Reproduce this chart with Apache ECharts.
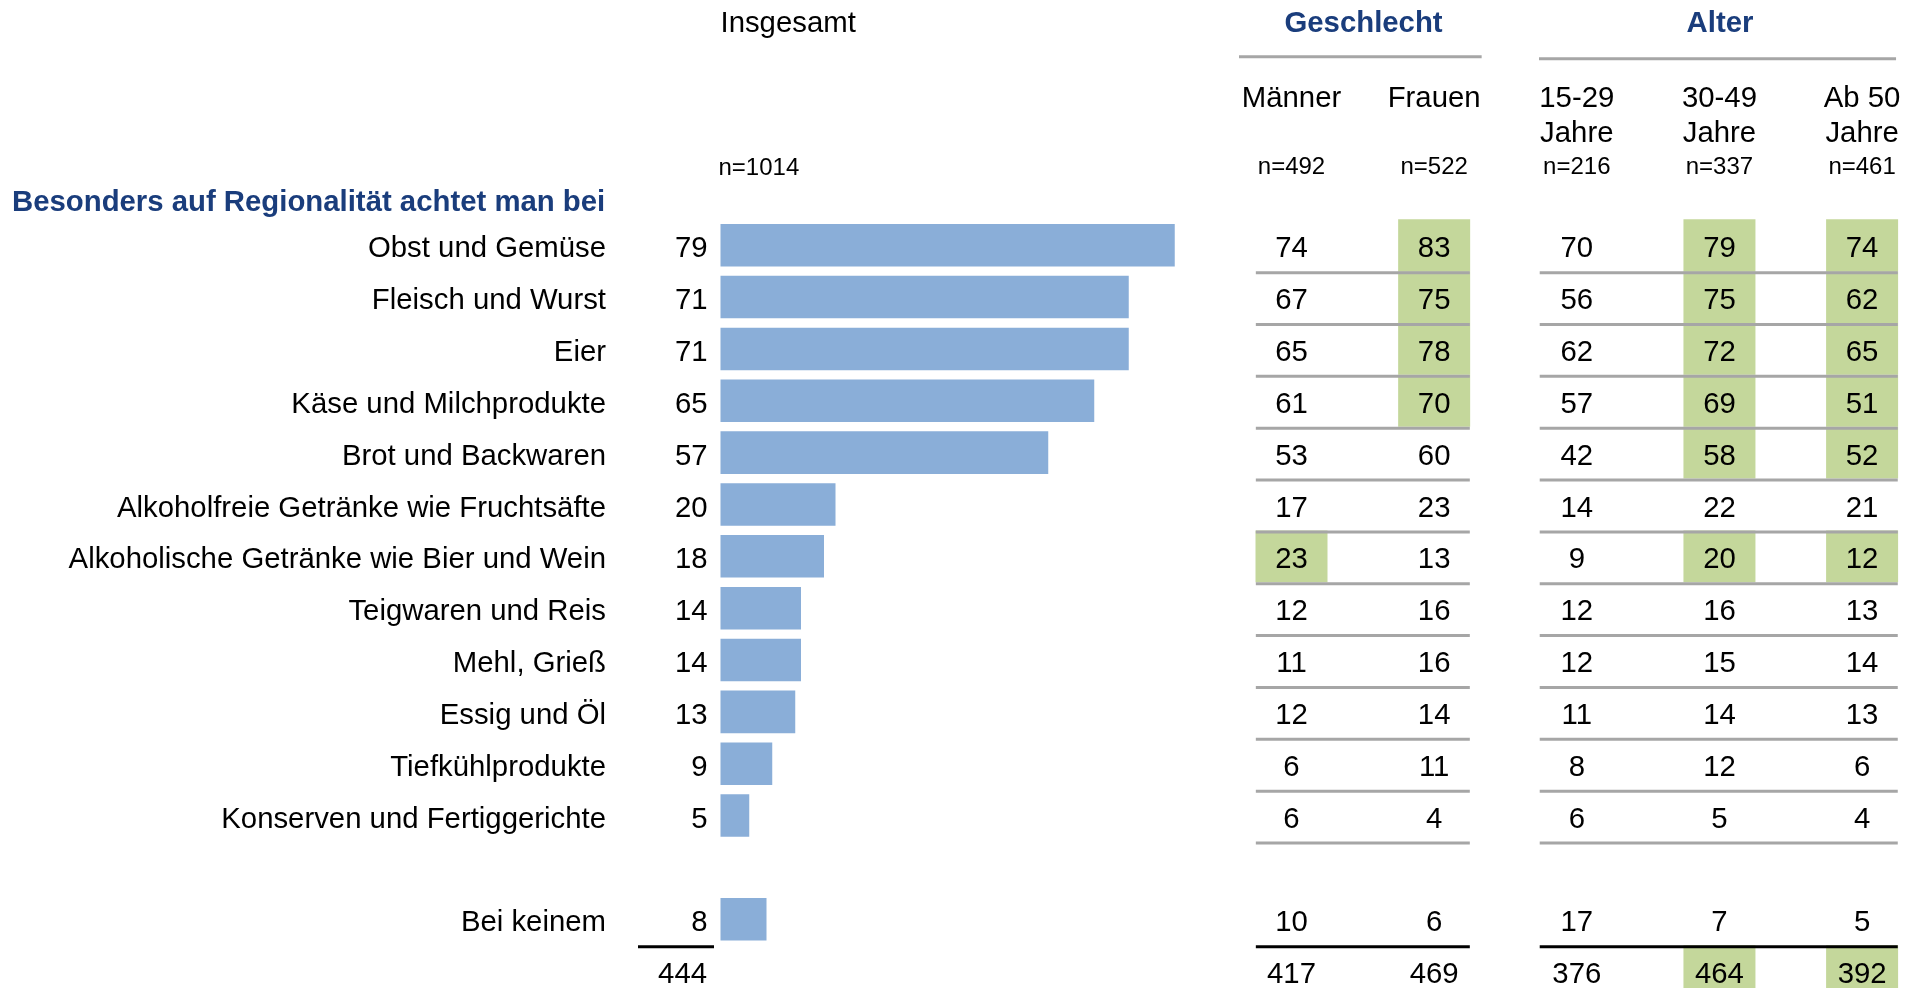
<!DOCTYPE html>
<html>
<head>
<meta charset="utf-8">
<title>Regionalität</title>
<script src="https://cdn.jsdelivr.net/npm/echarts@6/dist/echarts.min.js"></script>
<style>
html,body{margin:0;padding:0;background:#fff}
#main{width:1912px;height:988px}
</style>
</head>
<body>
<div id="main"></div>
<script>
// Zeilen: 12 Produkte, eine Leerzeile, "Bei keinem", Summenzeile
var categories = ['Obst und Gemüse', 'Fleisch und Wurst', 'Eier', 'Käse und Milchprodukte', 'Brot und Backwaren',
  'Alkoholfreie Getränke wie Fruchtsäfte', 'Alkoholische Getränke wie Bier und Wein', 'Teigwaren und Reis',
  'Mehl, Grieß', 'Essig und Öl', 'Tiefkühlprodukte', 'Konserven und Fertiggerichte', ' ', 'Bei keinem', '  '];

var insgesamt = [79, 71, 71, 65, 57, 20, 18, 14, 14, 13, 9, 5, '-', 8, '-'];
var summeInsgesamt = 444;

var maenner = [74, 67, 65, 61, 53, 17, 23, 12, 11, 12, 6, 6, null, 10];
var frauen  = [83, 75, 78, 70, 60, 23, 13, 16, 16, 14, 11, 4, null, 6];
var j1529   = [70, 56, 62, 57, 42, 14, 9, 12, 12, 11, 8, 6, null, 17];
var j3049   = [79, 75, 72, 69, 58, 22, 20, 16, 15, 14, 12, 5, null, 7];
var ab50    = [74, 62, 65, 51, 52, 21, 12, 13, 14, 13, 6, 4, null, 5];
var summen  = [417, 469, 376, 464, 392];

// grün hinterlegte Zellen (Zeilenindex, 14 = Summe)
var gruenMaenner = [6];
var gruenFrauen  = [0, 1, 2, 3];
var gruen1529    = [];
var gruen3049    = [0, 1, 2, 3, 4, 6, 14];
var gruenAb50    = [0, 1, 2, 3, 4, 6, 14];

var spaltenKopf = [['Männer'], ['Frauen'], ['15-29', 'Jahre'], ['30-49', 'Jahre'], ['Ab 50', 'Jahre']];
var spaltenN    = ['n=492', 'n=522', 'n=216', 'n=337', 'n=461'];
var nGesamt     = 'n=1014';

var FONT = "'Liberation Sans', Arial, sans-serif";
var BLUE = '#1A3D7C';
var GREEN = '#C4D79B';
var GRAY = '#A6A6A6';
var BARC = '#8AAED8';
var FS = 29.33;
var TY = 4;    // Textversatz Zeilen
var HY = 2.3;  // Textversatz Köpfe

var spalten = [maenner, frauen, j1529, j3049, ab50];
var gruen = [gruenMaenner, gruenFrauen, gruen1529, gruen3049, gruenAb50];

var cellData = [];
spalten.forEach(function (col, ci) {
  col.forEach(function (v, ri) {
    if (v == null) return;
    cellData.push([ci, ri, v, gruen[ci].indexOf(ri) >= 0 ? 1 : 0]);
  });
  cellData.push([ci, 14, summen[ci], gruen[ci].indexOf(14) >= 0 ? 1 : 0]);
});

// Trennlinien: [von, bis, Zeile, schwarz?]
var lineData = [];
for (var r = 0; r < 12; r++) {
  lineData.push([-0.25, 1.25, r, 0]);
  lineData.push([1.74, 4.25, r, 0]);
}
lineData.push([-0.25, 1.25, 13, 1]);
lineData.push([1.74, 4.25, 13, 1]);

var gruppen = [
  { name: 'Geschlecht', mitte: 0.505, von: -0.368, bis: 1.333, dy: -188.4 },
  { name: 'Alter', mitte: 3.004, von: 1.735, bis: 4.238, dy: -186.4 }
];

function txt(t, x, y, align, size, extra) {
  var s = { text: t, x: x, y: y, align: align, verticalAlign: 'middle', fontSize: size, fontFamily: FONT, fill: '#000' };
  for (var k in extra) s[k] = extra[k];
  return { type: 'text', style: s };
}

var chart = echarts.init(document.getElementById('main'));

var gridTop = 219.3, rowH = 51.85;

chart.setOption({
  animation: false,
  graphic: [{
    type: 'text', x: 12, y: 201 + HY,
    style: { text: 'Besonders auf Regionalität achtet man bei', font: 'bold ' + FS + 'px ' + FONT, fill: BLUE, verticalAlign: 'middle' }
  }],
  grid: [
    { left: 720.5, width: 575, top: gridTop, height: rowH * 15, outerBoundsMode: 'none', containLabel: false },
    { left: 1291.5, width: 570.6, top: gridTop, height: rowH * 15, outerBoundsMode: 'none', containLabel: false }
  ],
  xAxis: [
    { type: 'value', gridIndex: 0, min: 0, max: 100, show: false },
    { type: 'value', gridIndex: 1, min: 0, max: 4, show: false }
  ],
  yAxis: [
    { type: 'category', gridIndex: 0, data: categories, inverse: true, show: false },
    { type: 'category', gridIndex: 1, data: categories, inverse: true, show: false }
  ],
  series: [
    {
      type: 'bar', xAxisIndex: 0, yAxisIndex: 0, data: insgesamt,
      barCategoryGap: '18%',
      itemStyle: { color: BARC },
      label: { show: true, position: 'left', distance: 13, offset: [0, TY], fontSize: FS, fontFamily: FONT, color: '#000' }
    },
    {
      // Kategorienamen links
      type: 'custom', xAxisIndex: 0, yAxisIndex: 0,
      data: categories.map(function (c, i) { return [0, i]; }),
      encode: { x: 0, y: 1 },
      renderItem: function (params, api) {
        var p = api.coord([0, api.value(1)]);
        return txt(categories[api.value(1)], p[0] - 114.5, p[1] + TY, 'right', FS);
      }
    },
    {
      // Kopf "Insgesamt" und Summe 444
      type: 'custom', xAxisIndex: 0, yAxisIndex: 0, data: [[0, 14, summeInsgesamt]],
      encode: { x: 0, y: 1 },
      renderItem: function (params, api) {
        var p = api.coord([0, 14]);
        var p0 = api.coord([0, 0]);
        var h = api.size([0, 1])[1];
        return {
          type: 'group', children: [
            { type: 'line', shape: { x1: p[0] - 82.5, y1: p[1] - h / 2 + 1.5, x2: p[0] - 6.5, y2: p[1] - h / 2 + 1.5 }, style: { stroke: '#000', lineWidth: 3 } },
            txt(String(api.value(2)), p[0] - 13.5, p[1] + TY, 'right', FS),
            txt('Insgesamt', p0[0], p0[1] - 224 + HY, 'left', FS),
            txt(nGesamt, p0[0] - 2, p0[1] - 79 + HY, 'left', 24)
          ]
        };
      }
    },
    {
      // Tabellenzellen
      type: 'custom', xAxisIndex: 1, yAxisIndex: 1, data: cellData,
      encode: { x: 0, y: 1 },
      renderItem: function (params, api) {
        var p = api.coord([api.value(0), api.value(1)]);
        var h = api.size([1, 1])[1];
        var w = 72;
        var ch = [];
        if (api.value(3)) {
          ch.push({ type: 'rect', shape: { x: p[0] - w / 2, y: p[1] - h / 2, width: w, height: h + (api.value(1) === 14 ? 20 : 0) }, style: { fill: GREEN } });
        }
        ch.push(txt(String(api.value(2)), p[0], p[1] + TY, 'center', FS));
        return { type: 'group', children: ch };
      },
      z: 2
    },
    {
      type: 'custom', xAxisIndex: 1, yAxisIndex: 1, data: lineData,
      encode: { x: [0, 1], y: 2 },
      renderItem: function (params, api) {
        var a = api.coord([api.value(0), api.value(2)]);
        var b = api.coord([api.value(1), api.value(2)]);
        var y = a[1] + api.size([0, 1])[1] / 2 + 1.5;
        return { type: 'line', shape: { x1: a[0], y1: y, x2: b[0], y2: y }, style: { stroke: api.value(3) ? '#000' : GRAY, lineWidth: 3 } };
      },
      z: 3
    },
    {
      // Spaltenköpfe
      type: 'custom', xAxisIndex: 1, yAxisIndex: 1, data: spaltenKopf.map(function (k, i) { return [i, 0]; }),
      encode: { x: 0, y: 1 },
      renderItem: function (params, api) {
        var i = api.value(0);
        var p = api.coord([i, 0]);
        var ch = [];
        spaltenKopf[i].forEach(function (t, j) {
          ch.push(txt(t, p[0], p[1] - 149 + j * 35.8 + HY, 'center', FS));
        });
        ch.push(txt(spaltenN[i], p[0], p[1] - 80.4 + HY, 'center', 24));
        return { type: 'group', children: ch };
      }
    },
    {
      // Gruppenköpfe mit Linie
      type: 'custom', xAxisIndex: 1, yAxisIndex: 1, data: gruppen.map(function (g, i) { return [g.mitte, 0, i]; }),
      encode: { x: 0, y: 1 },
      renderItem: function (params, api) {
        var g = gruppen[api.value(2)];
        var m = api.coord([g.mitte, 0]);
        var a = api.coord([g.von, 0]);
        var b = api.coord([g.bis, 0]);
        return {
          type: 'group', children: [
            txt(g.name, m[0], m[1] - 224 + HY, 'center', FS, { fontWeight: 'bold', fill: BLUE }),
            { type: 'line', shape: { x1: a[0], y1: a[1] + g.dy, x2: b[0], y2: a[1] + g.dy }, style: { stroke: GRAY, lineWidth: 3 } }
          ]
        };
      }
    }
  ]
});
</script>
</body>
</html>
